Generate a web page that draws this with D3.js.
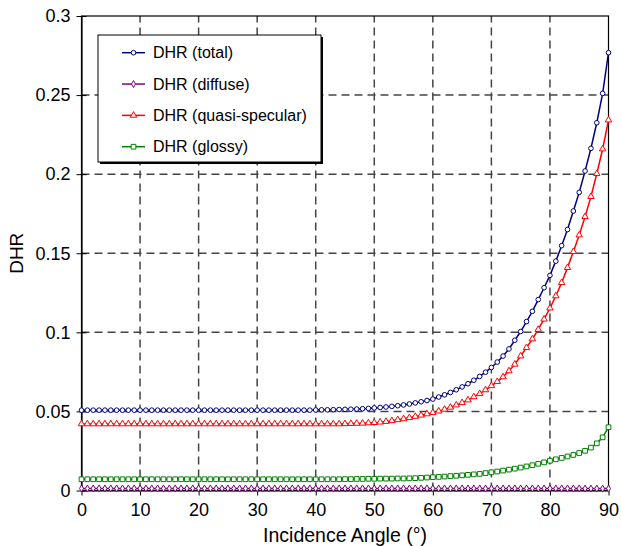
<!DOCTYPE html>
<html>
<head>
<meta charset="utf-8">
<script src="https://cdn.jsdelivr.net/npm/d3@7"></script>
<style>
  html, body { margin: 0; padding: 0; background: #fff; }
  svg { display: block; font-family: "Liberation Sans", Arial, Helvetica, sans-serif; }
</style>
</head>
<body>
<svg id="chart" width="621" height="546"></svg>
<script>
// Incidence angle (degrees), one sample per degree
const angles = d3.range(0, 91);

// DHR (total)
const dhrTotal = [
  0.0508, 0.0508, 0.0508, 0.0508, 0.0508, 0.0508, 0.0508, 0.0508, 0.0508, 0.0508,
  0.0508, 0.0508, 0.0508, 0.0508, 0.0508, 0.0508, 0.0508, 0.0508, 0.0508, 0.0508,
  0.0508, 0.0508, 0.0508, 0.0508, 0.0508, 0.0508, 0.0508, 0.0508, 0.0508, 0.0508,
  0.0508, 0.0508, 0.0508, 0.0508, 0.0508, 0.0508, 0.0508, 0.0508, 0.0508, 0.0508,
  0.0509, 0.0510, 0.0510, 0.0511, 0.0512, 0.0513, 0.0514, 0.0515, 0.0517, 0.0519,
  0.0522, 0.0525, 0.0528, 0.0532, 0.0536, 0.0541, 0.0547, 0.0554, 0.0561, 0.0569,
  0.0578, 0.0591, 0.0605, 0.0620, 0.0637, 0.0655, 0.0675, 0.0697, 0.0721, 0.0748,
  0.0778, 0.0812, 0.0850, 0.0895, 0.0950, 0.1005, 0.1068, 0.1133, 0.1207, 0.1282,
  0.1360, 0.1450, 0.1548, 0.1650, 0.1767, 0.1885, 0.2020, 0.2163, 0.2325, 0.2511,
  0.2768
];

// DHR (diffuse)
const dhrDiffuse = [
  0.0013, 0.0013, 0.0013, 0.0013, 0.0013, 0.0013, 0.0013, 0.0013, 0.0013, 0.0013,
  0.0013, 0.0013, 0.0013, 0.0013, 0.0013, 0.0013, 0.0013, 0.0013, 0.0013, 0.0013,
  0.0013, 0.0013, 0.0013, 0.0013, 0.0013, 0.0013, 0.0013, 0.0013, 0.0013, 0.0013,
  0.0013, 0.0013, 0.0013, 0.0013, 0.0013, 0.0013, 0.0013, 0.0013, 0.0013, 0.0013,
  0.0013, 0.0013, 0.0013, 0.0013, 0.0013, 0.0013, 0.0013, 0.0013, 0.0013, 0.0013,
  0.0013, 0.0013, 0.0013, 0.0013, 0.0013, 0.0013, 0.0013, 0.0013, 0.0013, 0.0013,
  0.0013, 0.0013, 0.0013, 0.0013, 0.0013, 0.0013, 0.0013, 0.0013, 0.0013, 0.0013,
  0.0013, 0.0013, 0.0013, 0.0013, 0.0013, 0.0013, 0.0013, 0.0013, 0.0013, 0.0013,
  0.0013, 0.0013, 0.0013, 0.0013, 0.0013, 0.0013, 0.0012, 0.0012, 0.0012, 0.0012,
  0.0012
];

// DHR (quasi-specular)
const dhrQuasiSpecular = [
  0.0421, 0.0421, 0.0421, 0.0421, 0.0421, 0.0421, 0.0421, 0.0421, 0.0421, 0.0421,
  0.0421, 0.0421, 0.0421, 0.0421, 0.0421, 0.0421, 0.0421, 0.0421, 0.0421, 0.0421,
  0.0421, 0.0421, 0.0421, 0.0421, 0.0421, 0.0421, 0.0421, 0.0421, 0.0421, 0.0421,
  0.0421, 0.0421, 0.0421, 0.0421, 0.0421, 0.0421, 0.0421, 0.0421, 0.0421, 0.0421,
  0.0421, 0.0421, 0.0421, 0.0421, 0.0421, 0.0422, 0.0423, 0.0424, 0.0425, 0.0427,
  0.0429, 0.0432, 0.0436, 0.0441, 0.0447, 0.0453, 0.0460, 0.0468, 0.0476, 0.0484,
  0.0492, 0.0502, 0.0513, 0.0526, 0.0540, 0.0555, 0.0572, 0.0592, 0.0612, 0.0636,
  0.0662, 0.0688, 0.0718, 0.0756, 0.0798, 0.0850, 0.0903, 0.0958, 0.1018, 0.1083,
  0.1153, 0.1230, 0.1314, 0.1409, 0.1510, 0.1615, 0.1731, 0.1858, 0.2003, 0.2159,
  0.2342
];

// DHR (glossy)
const dhrGlossy = [
  0.0071, 0.0071, 0.0071, 0.0071, 0.0071, 0.0071, 0.0071, 0.0071, 0.0071, 0.0071,
  0.0071, 0.0071, 0.0071, 0.0071, 0.0071, 0.0071, 0.0071, 0.0071, 0.0071, 0.0071,
  0.0071, 0.0071, 0.0071, 0.0071, 0.0071, 0.0071, 0.0071, 0.0071, 0.0071, 0.0071,
  0.0071, 0.0071, 0.0071, 0.0071, 0.0071, 0.0071, 0.0071, 0.0071, 0.0071, 0.0071,
  0.0071, 0.0071, 0.0071, 0.0071, 0.0071, 0.0072, 0.0072, 0.0073, 0.0073, 0.0074,
  0.0074, 0.0075, 0.0075, 0.0075, 0.0076, 0.0076, 0.0077, 0.0078, 0.0080, 0.0082,
  0.0084, 0.0086, 0.0088, 0.0091, 0.0093, 0.0096, 0.0099, 0.0102, 0.0105, 0.0110,
  0.0115, 0.0120, 0.0126, 0.0132, 0.0138, 0.0145, 0.0152, 0.0160, 0.0169, 0.0178,
  0.0188, 0.0197, 0.0206, 0.0215, 0.0225, 0.0237, 0.0251, 0.0271, 0.0298, 0.0336,
  0.0400
];

const seriesNames = ["DHR (total)", "DHR (diffuse)", "DHR (quasi-specular)", "DHR (glossy)"];
const xTicks = [0, 10, 20, 30, 40, 50, 60, 70, 80, 90];
const yTicks = [0, 0.05, 0.1, 0.15, 0.2, 0.25, 0.3];
const yTickLabels = ["0", "0.05", "0.1", "0.15", "0.2", "0.25", "0.3"];

const series = [
  { name: seriesNames[0], values: dhrTotal,         color: "#000080", symbol: d3.symbolCircle,   size: 17 },
  { name: seriesNames[1], values: dhrDiffuse,       color: "#800080", symbol: d3.symbolDiamond,  size: 14 },
  { name: seriesNames[2], values: dhrQuasiSpecular, color: "#ff0000", symbol: d3.symbolTriangle, size: 18 },
  { name: seriesNames[3], values: dhrGlossy,        color: "#008000", symbol: d3.symbolSquare,   size: 22 }
];

const svg = d3.select("#chart");
const plotLeft = 81.5, plotRight = 608.5, plotTop = 16, plotBottom = 490.5;

const x = d3.scaleLinear().domain([0, 90]).range([plotLeft, plotRight]);
const y = d3.scaleLinear().domain([0, 0.3]).range([plotBottom, plotTop]);

// dashed grid
const grid = svg.append("g").attr("stroke", "#454545").attr("stroke-width", 1.5)
  .attr("stroke-dasharray", "8,5").attr("fill", "none");
grid.selectAll("line.v").data(xTicks.slice(1, -1)).join("line")
  .attr("class", "v")
  .attr("x1", d => x(d)).attr("x2", d => x(d))
  .attr("y1", plotBottom).attr("y2", plotTop);
grid.selectAll("line.h").data(yTicks.slice(1, -1)).join("line")
  .attr("class", "h")
  .attr("x1", plotLeft).attr("x2", plotRight)
  .attr("y1", d => y(d)).attr("y2", d => y(d));

// frame
svg.append("rect")
  .attr("x", plotLeft).attr("y", plotTop)
  .attr("width", plotRight - plotLeft).attr("height", plotBottom - plotTop)
  .attr("fill", "none").attr("stroke", "#000").attr("stroke-width", 1.2);

// axes
const xAxis = svg.append("g")
  .attr("transform", `translate(0,${plotBottom})`)
  .call(d3.axisBottom(x).tickValues(xTicks).tickSize(5).tickSizeOuter(0).tickPadding(8).tickFormat(d3.format("d")));
xAxis.select(".domain").attr("stroke-width", 1.2);
xAxis.selectAll(".tick line").attr("y1", -5).attr("y2", 5).attr("stroke-width", 1);
xAxis.selectAll(".tick text").attr("font-size", 18).attr("fill", "#000");
xAxis.attr("font-family", null).attr("font-size", null);

const yAxis = svg.append("g")
  .attr("transform", `translate(${plotLeft},0)`)
  .call(d3.axisLeft(y).tickValues(yTicks).tickSize(5).tickSizeOuter(0).tickPadding(6)
    .tickFormat((d, i) => yTickLabels[i]));
yAxis.select(".domain").attr("stroke-width", 1.2);
yAxis.selectAll(".tick line").attr("x1", -5).attr("x2", 5).attr("stroke-width", 1);
yAxis.selectAll(".tick text").attr("font-size", 18).attr("fill", "#000");
yAxis.attr("font-family", null).attr("font-size", null);

// axis titles
svg.append("text")
  .attr("x", (plotLeft + plotRight) / 2).attr("y", 542)
  .attr("text-anchor", "middle").attr("font-size", 19.5)
  .text("Incidence Angle (°)");
svg.append("text")
  .attr("transform", `translate(23,${(plotTop + plotBottom) / 2}) rotate(-90)`)
  .attr("text-anchor", "middle").attr("font-size", 19)
  .text("DHR");

// series lines and markers
const line = d3.line().x((d, i) => x(angles[i])).y(d => y(d));
const plot = svg.append("g");
series.slice().reverse().forEach(s => {
  plot.append("path")
    .datum(s.values)
    .attr("d", line)
    .attr("fill", "none").attr("stroke", s.color).attr("stroke-width", 1.5);
  const sym = d3.symbol().type(s.symbol).size(s.size);
  plot.append("g").selectAll("path").data(s.values).join("path")
    .attr("transform", (d, i) => `translate(${x(angles[i])},${y(d)})`)
    .attr("d", sym)
    .attr("fill", "#fff").attr("stroke", s.color).attr("stroke-width", 1);
});

// legend
const lg = svg.append("g");
const lx = 98, ly = 35, lw = 223, lh = 127;
lg.append("rect").attr("x", lx + 2).attr("y", ly + 2).attr("width", lw).attr("height", lh).attr("fill", "#000");
lg.append("rect").attr("x", lx).attr("y", ly).attr("width", lw).attr("height", lh)
  .attr("fill", "#fff").attr("stroke", "#000").attr("stroke-width", 1);
const rowY = d3.scalePoint().domain(seriesNames).range([52.7, 146.7]);
series.forEach(s => {
  const ry = rowY(s.name);
  lg.append("line").attr("x1", 122).attr("x2", 145).attr("y1", ry).attr("y2", ry)
    .attr("stroke", s.color).attr("stroke-width", 1.5);
  lg.append("path").attr("transform", `translate(133.5,${ry})`)
    .attr("d", d3.symbol().type(s.symbol).size(s.size)())
    .attr("fill", "#fff").attr("stroke", s.color).attr("stroke-width", 1);
  lg.append("text").attr("x", 153).attr("y", ry).attr("dy", "0.36em")
    .attr("font-size", 16).attr("fill", "#000").text(s.name);
});
</script>
</body>
</html>
